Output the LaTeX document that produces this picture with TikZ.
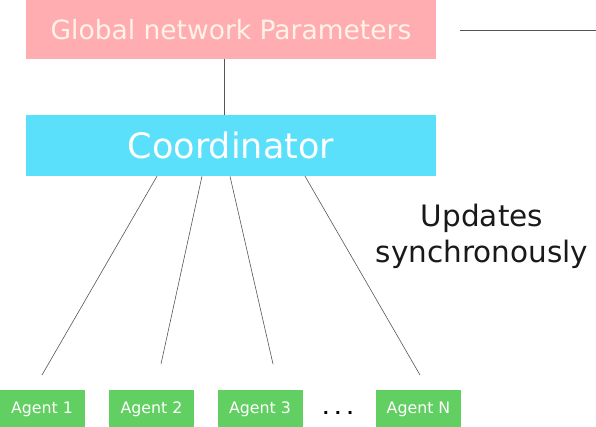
\documentclass[tikz,border=0pt]{standalone}
\usepackage{fontspec}
\setmainfont{DejaVu Sans}
\usepackage{xcolor}
\definecolor{paramspink}{HTML}{FFADB1}
\definecolor{paramstext}{HTML}{FFF3E8}
\definecolor{coordcyan}{HTML}{5BE0FB}
\definecolor{agentgreen}{HTML}{62CF62}
\definecolor{linkgray}{HTML}{555555}

\begin{document}
\begin{tikzpicture}[x=1pt,y=-1pt,
  box/.style={rectangle,inner sep=0pt,minimum width=410pt},
  params/.style={box,fill=paramspink,text=paramstext,minimum height=59pt,font=\fontsize{26.5}{30}\selectfont},
  coord/.style={box,fill=coordcyan,text=white,minimum height=61pt,font=\fontsize{35}{40}\selectfont},
  agent/.style={rectangle,inner sep=0pt,fill=agentgreen,text=white,minimum width=85pt,minimum height=39pt,font=\fontsize{15.8}{18}\selectfont},
  link/.style={draw=linkgray,line width=0.6pt}]
\useasboundingbox (0,0) rectangle (596,427);

\node[params] (gparams) at (231,29.5) {Global network Parameters};
\node[coord] (coordinator) at (231,145.5) {Coordinator};

\node[agent] (agent1) at (42,409) {Agent 1};
\node[agent] (agent2) at (151.5,409) {Agent 2};
\node[agent] (agent3) at (260,409) {Agent 3};
\node[agent] (agentN) at (418.5,409) {Agent N};
\node[anchor=base,inner sep=0pt,font=\fontsize{16}{18}\selectfont\bfseries] (dots) at (338,414) {.\hspace{6pt}.\hspace{6pt}.};

\node[align=center,text=black!90,font=\fontsize{29.5}{36}\selectfont] (updates) at (482,236) {Updates\\synchronously};

\coordinate (end1) at (42,375);
\coordinate (end2) at (161,364);
\coordinate (end3) at (273,364);
\coordinate (end4) at (420,375);
\coordinate (rline0) at (460,30);
\coordinate (rline1) at (596,30);

\draw[link] ([xshift=-7pt]gparams.south) -- ([xshift=-7pt]coordinator.north);
\draw[link] ([xshift=-74pt]coordinator.south) -- (end1);
\draw[link] ([xshift=-29pt]coordinator.south) -- (end2);
\draw[link] ([xshift=-1pt]coordinator.south) -- (end3);
\draw[link] ([xshift=74pt]coordinator.south) -- (end4);
\draw[link] (rline0) -- (rline1);

\end{tikzpicture}
\end{document}
